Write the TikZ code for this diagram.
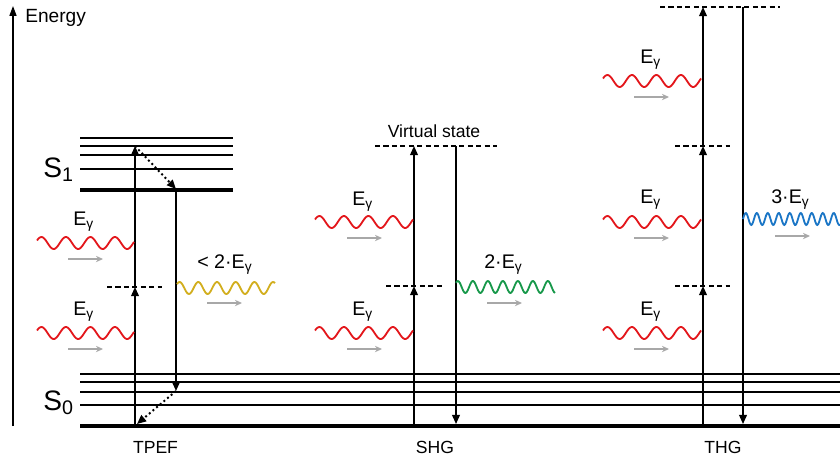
\documentclass[tikz,border=0pt]{standalone}
\usepackage{fontspec}
\setmainfont{Liberation Sans}
\usepackage{xcolor}
\usetikzlibrary{arrows.meta}

\definecolor{photred}{HTML}{E3161B}
\definecolor{photyellow}{HTML}{D2AE1E}
\definecolor{photgreen}{HTML}{17984A}
\definecolor{photblue}{HTML}{1B76C6}
\definecolor{arrowgray}{HTML}{A8A8A8}

\begin{document}
\begin{tikzpicture}[
    x=0.025cm, y=-0.025cm,
    lvl/.style={line width=1pt},
    lvlbold/.style={line width=2.4pt},
    virtual/.style={line width=0.9pt, dash pattern=on 3.6pt off 2.4pt},
    excite/.style={line width=1.2pt, -{Triangle[length=6.5pt,width=5.5pt]}},
    relax/.style={line width=1.4pt, dotted, -{Triangle[length=6.5pt,width=5.5pt]}},
    photon/.style={line width=1.3pt},
    travel/.style={draw=arrowgray, line width=1.1pt, -{Stealth[length=5pt,width=4.5pt]}},
    ephot/.style={inner sep=0pt, anchor=base west, font=\fontsize{14}{16}\selectfont},
    title/.style={inner sep=0pt, anchor=base, font=\fontsize{12.5}{14}\selectfont},
    state/.style={inner sep=0pt, anchor=base west, font=\fontsize{20}{22}\selectfont}
]
\useasboundingbox (0,0) rectangle (840,462);

% Energy axis
\coordinate (axisbot) at (13,426);
\coordinate (axistop) at (13,6);
\draw[line width=1pt, -{Triangle[length=7pt,width=5pt]}] (axisbot) -- (axistop);
\node[inner sep=0pt, anchor=base west, font=\fontsize{13.6}{15}\selectfont] (energy) at (25,22) {Energy};

% S1 levels
\draw[lvl] (80,138) -- (233,138);
\draw[lvl] (80,146) -- (233,146);
\draw[lvl] (80,155) -- (233,155);
\draw[lvl] (80,169) -- (233,169);
\draw[lvlbold] (80,190) -- (233,190);
\node[state] (s1) at (43,177) {S\textsubscript{1}};

% S0 levels
\draw[lvl] (80,374) -- (840,374);
\draw[lvl] (80,382) -- (840,382);
\draw[lvl] (80,392) -- (840,392);
\draw[lvl] (80,405) -- (840,405);
\draw[lvlbold] (80,426) -- (840,426);
\node[state] (s0) at (43,410) {S\textsubscript{0}};

% TPEF
\coordinate (tpefG) at (135,426);
\coordinate (tpefV) at (135,287);
\coordinate (tpefU) at (135,146);
\coordinate (tpefS1) at (176,189);
\coordinate (tpefS0) at (176,391);
\coordinate (tpefEnd) at (137,424);
\draw[virtual] (107,287) -- (162,287);
\draw[excite] (tpefG) -- (tpefV);
\draw[excite] (tpefV) -- (tpefU);
\draw[relax] (tpefU) -- (tpefS1);
\draw[excite] (tpefS1) -- (tpefS0);
\draw[relax] (tpefS0) -- (tpefEnd);
\draw[photon, photred] plot[domain=0:97, samples=90] ({37+\x}, {243-6*sin(25+\x/24.5*360)});
\draw[photon, photred] plot[domain=0:97, samples=90] ({37+\x}, {333-6*sin(25+\x/24.5*360)});
\draw[travel] (68,259) -- (103,259);
\draw[travel] (68,349) -- (103,349);
\node[ephot] (tpefEa) at (73,225) {E\textsubscript{γ}};
\node[ephot] (tpefEb) at (73,315) {E\textsubscript{γ}};
\draw[photon, photyellow] plot[domain=0:98, samples=100] ({177+\x}, {288-6*sin(40+\x/18.7*360)});
\draw[travel] (207,303) -- (242,303);
\node[ephot] (tpefEm) at (197,268) {< 2·E\textsubscript{γ}};
\node[title] (tpef) at (155.5,453) {TPEF};

% SHG
\coordinate (shgG) at (414,426);
\coordinate (shgV) at (414,286);
\coordinate (shgU) at (414,146);
\coordinate (shgTop) at (456,146);
\coordinate (shgBot) at (456,424);
\draw[virtual] (386,286) -- (442,286);
\draw[virtual] (375,146) -- (497,146);
\node[title] (virt) at (434,137) {Virtual state};
\draw[excite] (shgG) -- (shgV);
\draw[excite] (shgV) -- (shgU);
\draw[excite] (shgTop) -- (shgBot);
\draw[photon, photred] plot[domain=0:98, samples=90] ({315+\x}, {222-6*sin(25+\x/24.5*360)});
\draw[photon, photred] plot[domain=0:98, samples=90] ({315+\x}, {333-6*sin(25+\x/24.5*360)});
\draw[travel] (347,238) -- (382,238);
\draw[travel] (347,349) -- (382,349);
\node[ephot] (shgEa) at (352,205) {E\textsubscript{γ}};
\node[ephot] (shgEb) at (352,315) {E\textsubscript{γ}};
\draw[photon, photgreen] plot[domain=0:99, samples=110] ({456+\x}, {287-6*sin(45+\x/15*360)});
\draw[travel] (487,303) -- (522,303);
\node[ephot] (shgEm) at (484,268) {2·E\textsubscript{γ}};
\node[title] (shg) at (435,453) {SHG};

% THG
\coordinate (thgG) at (703,426);
\coordinate (thgVa) at (703,286);
\coordinate (thgVb) at (703,146);
\coordinate (thgU) at (703,7);
\coordinate (thgTop) at (743,7);
\coordinate (thgBot) at (743,424);
\draw[virtual] (675,286) -- (730,286);
\draw[virtual] (675,146) -- (730,146);
\draw[virtual] (660,7) -- (780,7);
\draw[excite] (thgG) -- (thgVa);
\draw[excite] (thgVa) -- (thgVb);
\draw[excite] (thgVb) -- (thgU);
\draw[excite] (thgTop) -- (thgBot);
\draw[photon, photred] plot[domain=0:98, samples=90] ({603+\x}, {81-6*sin(25+\x/24.5*360)});
\draw[photon, photred] plot[domain=0:98, samples=90] ({603+\x}, {222-6*sin(25+\x/24.5*360)});
\draw[photon, photred] plot[domain=0:98, samples=90] ({603+\x}, {333-6*sin(25+\x/24.5*360)});
\draw[travel] (634,97) -- (669,97);
\draw[travel] (634,238) -- (669,238);
\draw[travel] (634,349) -- (669,349);
\node[ephot] (thgEa) at (640,63) {E\textsubscript{γ}};
\node[ephot] (thgEb) at (640,203) {E\textsubscript{γ}};
\node[ephot] (thgEc) at (640,315) {E\textsubscript{γ}};
\draw[photon, photblue] plot[domain=0:97, samples=130] ({743+\x}, {219-6*sin(\x/11*360)});
\draw[travel] (775,236) -- (810,236);
\node[ephot] (thgEm) at (771,203) {3·E\textsubscript{γ}};
\node[title] (thg) at (723,453) {THG};

\end{tikzpicture}
\end{document}
